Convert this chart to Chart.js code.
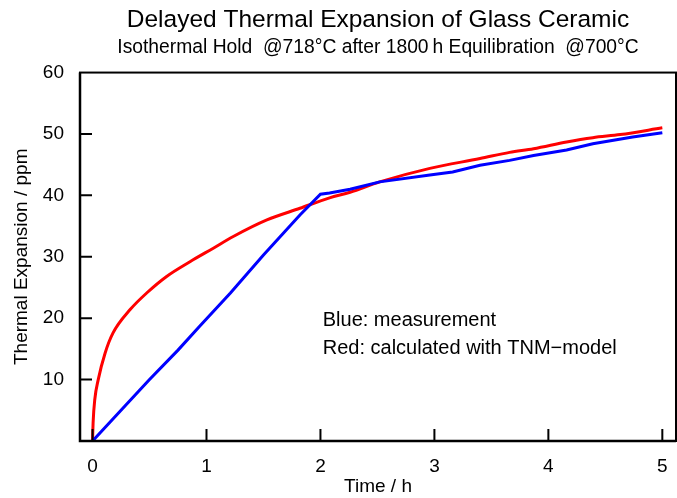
<!DOCTYPE html>
<html>
<head>
<meta charset="utf-8">
<script src="https://cdn.jsdelivr.net/npm/chart.js@4/dist/chart.umd.min.js"></script>
<style>
  html, body { margin: 0; padding: 0; background: #fff; }
  #wrap { width: 677px; height: 498px; }
</style>
</head>
<body>
<div id="wrap"><canvas id="myChart" width="677" height="498"></canvas></div>
<script>
// measured curve (blue)
var blueTime = [0, 0.25, 0.5, 0.75, 0.94, 1.21, 1.5, 1.82, 2.0, 2.08, 2.26, 2.52, 2.96, 3.16, 3.4, 3.66, 3.87, 4.16, 4.39, 4.74, 5.0];
var blueExp  = [0, 5, 10, 14.8, 18.7, 24.1, 30.3, 36.8, 40.2, 40.4, 41.0, 42.2, 43.3, 43.8, 44.9, 45.7, 46.5, 47.4, 48.4, 49.5, 50.2];

// TNM model curve (red)
var redTime = [0, 0.005, 0.02, 0.05, 0.11, 0.18, 0.33, 0.475, 0.65, 0.855, 1.06, 1.235, 1.53, 1.82, 2.08, 2.26, 2.52, 2.96, 3.4, 3.66, 3.87, 4.16, 4.39, 4.63, 5.0];
var redExp  = [0, 3, 6.8, 10, 14.3, 17.6, 21.4, 24.1, 26.8, 29.2, 31.4, 33.3, 36.0, 37.9, 39.6, 40.5, 42.2, 44.4, 46.0, 47.0, 47.6, 48.7, 49.4, 49.9, 51.0];

var xTicks = [0, 1, 2, 3, 4, 5];
var yTicks = [10, 20, 30, 40, 50, 60];

var notes = ["Blue: measurement", "Red: calculated with TNM\u2212model"];

function pts(xs, ys) {
  return xs.map(function (x, i) { return { x: x, y: ys[i] }; });
}

var font = "'Liberation Sans', Arial, sans-serif";

// box round the plot, inward ticks and the two notes
var framePlugin = {
  id: 'frame',
  afterDatasetsDraw: function (chart) {
    var ctx = chart.ctx, a = chart.chartArea;
    var xs = chart.scales.x, ys = chart.scales.y;
    ctx.save();
    ctx.strokeStyle = '#000';
    ctx.lineWidth = 2;
    ctx.strokeRect(a.left, a.top, a.right - a.left, a.bottom - a.top);
    ctx.lineWidth = 2.5;
    ctx.beginPath();
    ctx.moveTo(a.left, a.top); ctx.lineTo(a.left, a.bottom); ctx.lineTo(a.right, a.bottom);
    ctx.stroke();
    ctx.lineWidth = 2;
    ctx.beginPath();
    xTicks.forEach(function (v) {
      var px = xs.getPixelForValue(v);
      ctx.moveTo(px, a.bottom); ctx.lineTo(px, a.bottom - 12);
    });
    yTicks.forEach(function (v) {
      if (v >= 60) return;
      var py = ys.getPixelForValue(v);
      ctx.moveTo(a.left, py); ctx.lineTo(a.left + 12, py);
    });
    ctx.stroke();

    ctx.fillStyle = '#000';
    ctx.font = '20px ' + font;
    ctx.textAlign = 'left';
    ctx.textBaseline = 'alphabetic';
    var nx = xs.getPixelForValue(2.02);
    ctx.fillText(notes[0], nx, ys.getPixelForValue(18.8));
    ctx.fillText(notes[1], nx, ys.getPixelForValue(14.1));
    ctx.restore();
  }
};

var ctx = document.getElementById("myChart");
var myChart = new Chart(ctx, {
  type: 'line',
  data: {
    datasets: [
      {
        data: pts(blueTime, blueExp),
        label: "Blue: measurement",
        borderColor: "#0000ff",
        borderWidth: 3,
        pointRadius: 0,
        fill: false
      },
      {
        data: pts(redTime, redExp),
        label: "Red: calculated with TNM-model",
        borderColor: "#ff0000",
        borderWidth: 3,
        pointRadius: 0,
        cubicInterpolationMode: 'monotone',
        fill: false
      }
    ]
  },
  options: {
    responsive: false,
    animation: false,
    layout: { padding: { left: 0, right: 1, top: 0, bottom: 0 } },
    plugins: {
      legend: { display: false },
      tooltip: { enabled: false },
      title: {
        display: true,
        fullSize: false,
        text: 'Delayed Thermal Expansion of Glass Ceramic',
        color: '#000',
        font: { family: font, size: 24.5, weight: 'normal' },
        padding: { top: 6, bottom: 0 }
      },
      subtitle: {
        display: true,
        fullSize: false,
        text: 'Isothermal Hold  @718\u00b0C after 1800\u2009h Equilibration  @700\u00b0C',
        color: '#000',
        font: { family: font, size: 19.3, weight: 'normal' },
        padding: { top: 1, bottom: 13 }
      }
    },
    scales: {
      x: {
        type: 'linear',
        min: -0.11,
        max: 5.12,
        afterBuildTicks: function (s) { s.ticks = xTicks.map(function (v) { return { value: v }; }); },
        afterFit: function (s) { s.height = 57; s.paddingLeft = 0; s.paddingRight = 0; },
        grid: { display: false, drawTicks: false },
        border: { display: false },
        ticks: { color: '#000', padding: 14, font: { family: font, size: 19 } },
        title: {
          display: true, text: 'Time / h', color: '#000',
          font: { family: font, size: 19 }, padding: { top: 0, bottom: 0 }
        }
      },
      y: {
        type: 'linear',
        min: 0,
        max: 60,
        afterBuildTicks: function (s) { s.ticks = yTicks.map(function (v) { return { value: v }; }); },
        afterFit: function (s) { s.width = 80; },
        grid: { display: false, drawTicks: false },
        border: { display: false },
        ticks: { color: '#000', padding: 16, font: { family: font, size: 19 } },
        title: {
          display: true, text: 'Thermal Expansion / ppm', color: '#000',
          font: { family: font, size: 19 }, padding: { top: 10.6, bottom: 0 }
        }
      }
    }
  },
  plugins: [framePlugin]
});
</script>
</body>
</html>
